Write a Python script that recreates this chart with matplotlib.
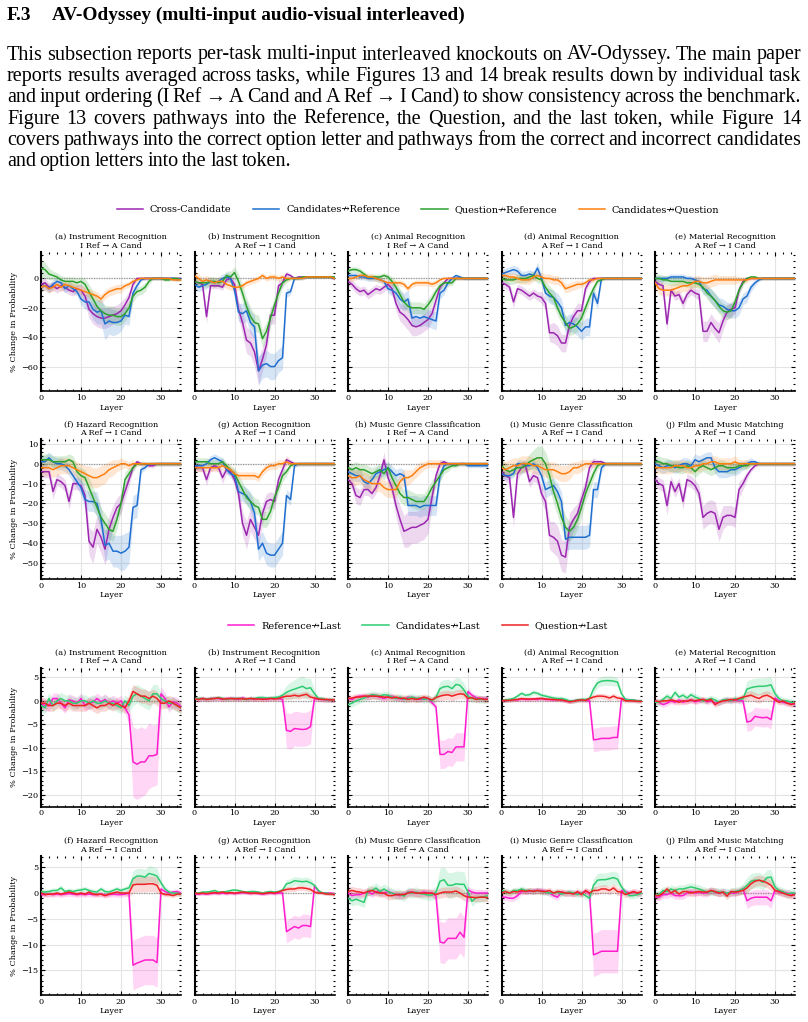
import matplotlib.pyplot as plt
import numpy as np
from matplotlib.lines import Line2D
from matplotlib.ticker import AutoMinorLocator, MultipleLocator

# ---------------------------------------------------------------- page text
heading_num = "F.3"
heading_text = "AV-Odyssey (multi-input audio-visual interleaved)"
paragraph_lines = [
    "This subsection reports per-task multi-input interleaved knockouts on AV-Odyssey. The main paper",
    "reports results averaged across tasks, while Figures 13 and 14 break results down by individual task",
    "and input ordering (I Ref \u2192 A Cand and A Ref \u2192 I Cand) to show consistency across the benchmark.",
    "Figure 13 covers pathways into the Reference, the Question, and the last token, while Figure 14",
    "covers pathways into the correct option letter and pathways from the correct and incorrect candidates",
    "and option letters into the last token.",
]

# ---------------------------------------------------------------- panels
task_names = [
    "(a) Instrument Recognition", "(b) Instrument Recognition", "(c) Animal Recognition",
    "(d) Animal Recognition", "(e) Material Recognition", "(f) Hazard Recognition",
    "(g) Action Recognition", "(h) Music Genre Classification",
    "(i) Music Genre Classification", "(j) Film and Music Matching",
]
orderings = [
    "I Ref \u2192 A Cand", "A Ref \u2192 I Cand", "I Ref \u2192 A Cand", "A Ref \u2192 I Cand",
    "A Ref \u2192 I Cand", "A Ref \u2192 I Cand", "A Ref \u2192 I Cand", "I Ref \u2192 A Cand",
    "A Ref \u2192 I Cand", "A Ref \u2192 I Cand",
]
layers = np.arange(36)

# ---- Figure 13: knockouts into Reference / Question (one row per task)
cross_candidate = [
    [-4, -3, -6, -5, -7, -5, -6, -8, -9, -7, -8, -12, -21, -24, -26, -27, -27, -26, -25, -24, -22, -18, -13, -4, 0, 0, 0, 0, 0, 0, 0, 0, 0, 0, 0, 0],
    [-2, -3, -4, -26, -5, -5, -5, -6, -1, 0, -4, -21, -30, -42, -44, -50, -63, -55, -45, -25, -25, -5, -3, 3, 2, 0, 1, 1, 1, 1, 1, 1, 1, 1, 1, 0],
    [-2, -4, -7, -9, -8, -11, -9, -7, -8, -6, -4, -7, -17, -23, -25, -28, -32, -33, -32, -30, -28, -24, -15, -6, -3, 0, 0, 0, 0, 0, 0, 0, 0, 0, 0, 0],
    [-3, -4, -6, -16, -7, -8, -10, -12, -10, -12, -13, -17, -37, -37, -39, -44, -44, -32, -26, -22, -22, -7, -2, 0, 0, 0, 0, 0, 0, 0, 0, 0, 0, 0, 0, 0],
    [-2, -4, -5, -31, -8, -12, -11, -17, -11, -8, -10, -11, -36, -36, -30, -34, -37, -29, -23, -21, -20, -8, -2, 0, 0, 0, 0, 0, 0, 0, 0, 0, 0, 0, 0, 0],
    [-4, -4, -4, -14, -8, -9, -11, -19, -10, -10, -11, -16, -39, -42, -33, -37, -43, -33, -27, -22, -20, -14, -8, -2, 1, 0, 0, -1, -1, 0, 0, 0, 0, 0, 0, 0],
    [-1, -2, -2, -8, -2, -1, -2, -7, -3, -4, -8, -15, -30, -36, -28, -32, -36, -25, -19, -18, -19, -8, -3, 2, 1, 0, 0, 0, 0, 0, 0, 0, 0, 0, 0, 0],
    [-8, -10, -16, -17, -13, -13, -15, -12, -6, 2, -7, -12, -21, -28, -34, -33, -32, -32, -31, -30, -28, -17, -6, 0, 1, 0, 0, 0, 0, 0, 0, 0, 0, 0, 0, 0],
    [-4, -6, -7, -27, -5, -2, -1, -9, -6, -7, -15, -19, -36, -37, -39, -46, -47, -32, -28, -25, -18, -12, -2, 1, 1, 1, 0, 0, 0, 0, 0, 0, 0, 0, 0, 0],
    [-8, -10, -11, -21, -9, -14, -10, -19, -8, -9, -11, -15, -27, -25, -24, -25, -33, -27, -26, -26, -27, -13, -10, -6, -3, -1, 0, 0, 0, 0, 0, 0, 0, 0, 0, 0],
]
cross_candidate_sd = [
    [3, 3, 3, 3, 3, 3, 3, 3, 3, 3, 4, 5, 6, 7, 7, 7, 7, 7, 6, 6, 6, 5, 4, 2, 1, 1, 1, 1, 1, 1, 1, 1, 1, 1, 1, 1],
    [2, 2, 2, 5, 2, 2, 2, 2, 2, 2, 4, 6, 8, 9, 9, 10, 9, 8, 7, 6, 6, 4, 3, 2, 1, 1, 1, 1, 1, 1, 1, 1, 1, 1, 1, 1],
    [3, 3, 3, 3, 3, 3, 3, 3, 3, 3, 3, 4, 5, 6, 7, 7, 7, 6, 6, 6, 6, 5, 4, 2, 1, 1, 1, 1, 1, 1, 1, 1, 1, 1, 1, 1],
    [3, 3, 3, 4, 3, 3, 3, 3, 3, 3, 4, 4, 6, 7, 7, 6, 6, 6, 5, 5, 5, 3, 2, 1, 1, 1, 1, 1, 1, 1, 1, 1, 1, 1, 1, 1],
    [3, 3, 3, 5, 3, 3, 3, 4, 3, 3, 3, 4, 7, 7, 6, 6, 7, 6, 5, 5, 4, 3, 2, 1, 1, 1, 1, 1, 1, 1, 1, 1, 1, 1, 1, 1],
    [3, 3, 3, 4, 3, 3, 3, 4, 3, 3, 3, 5, 7, 8, 7, 8, 8, 7, 6, 5, 5, 4, 3, 2, 1, 1, 1, 1, 1, 1, 1, 1, 1, 1, 1, 1],
    [2, 2, 2, 3, 2, 2, 2, 3, 2, 2, 3, 5, 6, 7, 6, 6, 6, 5, 4, 4, 4, 3, 2, 2, 1, 1, 1, 1, 1, 1, 1, 1, 1, 1, 1, 1],
    [3, 3, 4, 4, 3, 3, 3, 3, 3, 4, 3, 4, 6, 7, 8, 9, 8, 8, 8, 8, 7, 5, 3, 2, 1, 1, 1, 1, 1, 1, 1, 1, 1, 1, 1, 1],
    [3, 3, 3, 5, 3, 3, 3, 3, 3, 3, 4, 5, 7, 8, 8, 8, 8, 7, 6, 5, 5, 4, 3, 2, 1, 1, 1, 1, 1, 1, 1, 1, 1, 1, 1, 1],
    [3, 3, 3, 5, 3, 3, 3, 4, 3, 3, 3, 4, 6, 6, 6, 6, 6, 6, 5, 5, 5, 4, 3, 2, 1, 1, 1, 1, 1, 1, 1, 1, 1, 1, 1, 1],
]
candidates_reference = [
    [-6, -5, -7, -4, -2, -3, -7, -5, -7, -9, -14, -16, -16, -21, -23, -22, -31, -29, -30, -30, -29, -25, -26, -10, -5, -1, 0, 0, 0, 0, 0, 0, 0, 0, -1, 0],
    [-4, -6, -5, -4, -2, -3, -2, 0, 1, 0, -8, -23, -24, -22, -30, -33, -63, -59, -58, -60, -60, -56, -54, -10, -9, 0, 0, 0, 1, 1, 1, 1, 1, 1, 1, 0],
    [2, 2, 2, 1, 1, 0, 0, 0, -1, -2, -7, -8, -10, -14, -16, -14, -27, -26, -27, -26, -27, -28, -29, -10, -8, -3, 0, 2, 1, 0, 0, 0, 0, 0, 0, 0],
    [3, 4, 5, 6, 5, 2, 2, 3, 2, 7, 0, -10, -12, -13, -16, -20, -32, -30, -31, -33, -36, -33, -33, -10, -17, 0, 0, 0, 0, 0, 0, 0, 0, 0, 0, 0],
    [0, 0, 0, 0, 1, 1, 1, 1, 0, 0, -1, -2, -7, -8, -12, -15, -18, -19, -21, -22, -22, -20, -14, -12, -6, -3, -1, 0, 0, 0, 0, 0, 0, 0, 0, 0],
    [1, 1, 3, 1, 0, 0, -1, -3, -6, -9, -12, -18, -19, -19, -20, -28, -41, -40, -44, -44, -45, -44, -42, -22, -21, -3, -2, 0, 0, 0, 0, 0, 0, 0, 0, 0],
    [-1, -1, -1, 0, 2, 3, 2, 1, -3, -5, -6, -14, -15, -16, -19, -25, -43, -40, -45, -46, -46, -43, -40, -16, -18, -1, 0, 0, 0, 0, 0, 0, 0, 0, 0, 0],
    [-4, -5, -6, -6, -9, -10, -8, -5, -4, -3, -2, -4, -6, -5, -6, -21, -21, -21, -22, -21, -21, -21, -21, -6, -1, 0, 0, 0, 0, 0, -1, -1, -1, -1, -1, -1],
    [-5, -6, -6, -5, 0, 0, -1, -1, 0, -2, -6, -13, -12, -11, -14, -19, -38, -37, -37, -37, -37, -37, -36, -13, -13, -2, 0, 0, 0, 0, 0, 0, 0, 0, 0, 0],
    [0, -1, -2, -1, -1, -2, -1, 0, 0, -1, 2, 1, 2, 3, 3, -2, -4, -4, -4, -3, -3, -2, -1, 0, 1, 1, 0, 0, 0, 0, 0, 0, 0, 0, 0, 0],
]
candidates_reference_sd = [
    [3, 3, 3, 3, 3, 3, 3, 3, 3, 3, 4, 5, 6, 7, 8, 9, 11, 9, 9, 8, 7, 6, 6, 4, 2, 1, 1, 1, 1, 1, 1, 1, 1, 1, 1, 1],
    [3, 3, 3, 3, 3, 3, 3, 3, 3, 3, 4, 6, 7, 7, 8, 8, 10, 9, 9, 9, 9, 8, 8, 3, 2, 1, 1, 1, 1, 1, 1, 1, 1, 1, 1, 1],
    [2, 2, 2, 2, 2, 2, 2, 2, 2, 2, 3, 4, 5, 6, 6, 6, 6, 6, 6, 6, 6, 6, 6, 4, 3, 2, 1, 1, 1, 1, 1, 1, 1, 1, 1, 1],
    [3, 3, 3, 3, 3, 3, 3, 3, 3, 4, 3, 4, 5, 5, 6, 6, 6, 6, 6, 6, 6, 6, 6, 4, 4, 1, 1, 1, 1, 1, 1, 1, 1, 1, 1, 1],
    [2, 2, 2, 2, 2, 2, 2, 2, 2, 2, 2, 3, 4, 4, 5, 5, 5, 5, 5, 5, 5, 5, 4, 4, 3, 2, 1, 1, 1, 1, 1, 1, 1, 1, 1, 1],
    [3, 3, 3, 3, 3, 3, 3, 3, 3, 3, 4, 5, 5, 5, 6, 6, 8, 8, 8, 8, 9, 9, 8, 6, 6, 2, 1, 1, 1, 1, 1, 1, 1, 1, 1, 1],
    [2, 2, 2, 2, 2, 2, 2, 2, 2, 2, 3, 4, 4, 4, 5, 5, 6, 6, 6, 6, 6, 6, 6, 3, 3, 1, 1, 1, 1, 1, 1, 1, 1, 1, 1, 1],
    [3, 3, 3, 3, 3, 3, 3, 3, 3, 3, 3, 3, 3, 3, 3, 5, 5, 5, 5, 5, 5, 5, 5, 3, 2, 1, 1, 1, 1, 1, 1, 1, 1, 1, 1, 1],
    [2, 2, 2, 2, 2, 2, 2, 2, 2, 2, 3, 4, 4, 4, 4, 5, 6, 6, 6, 6, 6, 6, 6, 4, 4, 2, 1, 1, 1, 1, 1, 1, 1, 1, 1, 1],
    [3, 3, 3, 3, 3, 3, 3, 3, 3, 3, 3, 3, 3, 3, 3, 3, 3, 3, 3, 3, 3, 3, 2, 2, 2, 1, 1, 1, 1, 1, 1, 1, 1, 1, 1, 1],
]
question_reference = [
    [7, 6, 3, 2, 1, -1, -2, -2, -2, -3, -2, -4, -9, -14, -19, -22, -24, -25, -25, -26, -26, -24, -20, -12, -9, -8, -6, -2, 0, 0, 0, -1, -1, 0, 0, -1],
    [-2, -3, -3, -3, -2, -2, -3, -2, 2, 1, 4, -2, -10, -19, -26, -30, -31, -41, -36, -27, -18, -10, -3, -1, 0, 0, 0, 1, 1, 1, 1, 1, 1, 1, 1, 1],
    [5, 6, 6, 5, 3, 1, 1, 1, 1, 2, 1, -2, -6, -11, -16, -19, -20, -20, -20, -21, -18, -14, -9, -5, -3, -3, -3, 0, 0, 0, 0, 0, 0, 0, 0, 0],
    [0, -1, -1, -1, 0, 0, 0, 1, 2, 0, -1, -6, -10, -13, -20, -26, -30, -34, -33, -31, -27, -20, -13, -7, -2, -1, 0, 0, 0, 0, 0, 0, 0, 0, 0, 0],
    [0, 0, -1, -1, -2, -2, -2, -2, -3, -3, -3, -4, -6, -10, -12, -15, -19, -22, -23, -22, -16, -8, -3, 0, 1, 1, 0, 0, 0, 0, 0, 0, 0, 0, 0, 0],
    [2, 2, 2, 1, 1, 1, 1, 2, 1, -4, -6, -7, -12, -17, -22, -27, -30, -33, -34, -28, -20, -8, -5, -2, 0, 0, 0, 0, 0, 0, 0, 0, 0, 0, 0, 0],
    [1, 1, 1, 1, 0, 0, 0, 1, -1, -3, -5, -9, -13, -17, -19, -21, -22, -28, -28, -24, -17, -12, -6, -4, -1, 0, 0, 0, 0, 0, 0, 0, 0, 0, 0, 0],
    [-2, -3, -2, -3, -3, -4, -5, -4, -3, -5, -2, -7, -11, -15, -17, -17, -18, -19, -19, -19, -16, -12, -9, -6, -3, -2, -1, -1, 0, 0, 0, 0, 0, 0, 0, 0],
    [-1, -3, -4, -3, -2, -2, -1, 1, 2, 3, 3, 0, -6, -14, -20, -27, -32, -34, -32, -28, -22, -15, -10, -5, -1, 0, 0, 0, 0, 0, 0, 0, 0, 0, 0, 0],
    [1, 1, 0, 0, -1, -1, -2, -2, -1, -2, -4, -2, -1, -2, -3, -2, -1, -1, -2, -2, -2, -1, -1, -1, 0, 0, 0, 0, 0, 0, 0, 0, 0, 0, 0, 0],
]
question_reference_sd = [
    [6, 5, 4, 3, 3, 3, 3, 3, 3, 3, 3, 4, 5, 5, 6, 6, 6, 6, 6, 6, 6, 5, 5, 4, 3, 3, 3, 2, 1, 1, 1, 1, 1, 1, 1, 1],
    [3, 3, 3, 3, 3, 3, 3, 3, 3, 4, 4, 5, 6, 6, 6, 6, 6, 6, 6, 6, 5, 5, 3, 2, 1, 1, 1, 1, 1, 1, 1, 1, 1, 1, 1, 1],
    [2, 2, 2, 2, 2, 2, 2, 2, 2, 2, 2, 3, 4, 4, 4, 4, 4, 4, 4, 4, 4, 4, 3, 3, 2, 2, 2, 1, 1, 1, 1, 1, 1, 1, 1, 1],
    [3, 3, 3, 3, 3, 3, 3, 3, 3, 3, 3, 4, 5, 5, 5, 5, 5, 5, 5, 5, 5, 4, 4, 3, 2, 1, 1, 1, 1, 1, 1, 1, 1, 1, 1, 1],
    [3, 3, 3, 3, 3, 3, 3, 3, 3, 3, 3, 3, 4, 4, 5, 5, 5, 5, 5, 5, 4, 3, 2, 1, 1, 1, 1, 1, 1, 1, 1, 1, 1, 1, 1, 1],
    [3, 3, 3, 3, 3, 3, 3, 3, 3, 3, 4, 4, 5, 5, 5, 5, 5, 5, 5, 5, 4, 4, 3, 2, 1, 1, 1, 1, 1, 1, 1, 1, 1, 1, 1, 1],
    [2, 2, 2, 2, 2, 2, 2, 2, 2, 2, 3, 3, 4, 4, 4, 4, 4, 4, 4, 4, 4, 3, 3, 2, 1, 1, 1, 1, 1, 1, 1, 1, 1, 1, 1, 1],
    [3, 3, 3, 3, 3, 3, 3, 3, 3, 3, 3, 4, 4, 4, 4, 4, 4, 4, 4, 4, 4, 4, 3, 3, 2, 2, 1, 1, 1, 1, 1, 1, 1, 1, 1, 1],
    [3, 3, 3, 3, 3, 3, 3, 4, 5, 6, 6, 6, 6, 6, 6, 6, 6, 5, 5, 5, 5, 4, 4, 3, 2, 1, 1, 1, 1, 1, 1, 1, 1, 1, 1, 1],
    [3, 3, 3, 3, 3, 3, 3, 3, 3, 3, 3, 3, 3, 3, 3, 3, 3, 3, 3, 3, 3, 2, 2, 2, 1, 1, 1, 1, 1, 1, 1, 1, 1, 1, 1, 1],
]
candidates_question = [
    [-6, -5, -7, -6, -4, -6, -4, -5, -6, -7, -8, -9, -10, -11, -12, -14, -11, -9, -8, -7, -7, -5, -4, -2, -1, 0, 0, 0, 0, 0, 0, 0, 0, -1, -1, -1],
    [2, 0, -2, -1, -2, -3, -2, -2, -4, -5, -6, -6, -5, -3, -2, -1, 0, 2, 0, 1, 1, 0, 1, 0, 0, 0, 0, 0, 1, 1, 1, 1, 1, 1, 1, 0],
    [0, 0, 1, 2, 2, 1, 1, 0, -1, -2, -3, -3, -3, -3, -4, -7, -4, -3, -3, -3, -3, -4, -3, -1, 0, 0, 0, 0, 0, 0, 0, 0, 0, 0, 0, 0],
    [2, 2, 1, 1, 0, -1, -1, -1, 1, 2, 1, 0, 0, -1, -1, -3, -7, -6, -5, -4, -4, -3, -1, -1, 0, 0, 0, 0, 0, 0, 0, 0, 0, 0, 0, 0],
    [-3, -7, -8, -8, -8, -7, -6, -5, -5, -4, -2, -2, -3, -3, -2, -1, -1, -1, -1, -1, -1, -1, -1, -1, 0, 0, 0, 0, 0, 0, 0, 0, 0, 0, 0, 0],
    [-2, -2, -2, -3, -2, -1, -1, -1, -2, -3, -4, -5, -6, -7, -7, -6, -5, -3, -2, -1, 0, 0, -1, 0, 0, 0, 0, 0, 0, 0, 0, 0, 0, 0, 0, 0],
    [-2, -2, -2, -2, -2, -2, -2, -1, -2, -3, -5, -6, -6, -6, -6, -6, -7, -4, -2, -1, -1, 0, 0, 1, 0, 0, 0, 0, 0, 0, 0, 0, 0, 0, 0, 0],
    [-6, -7, -7, -6, -8, -9, -10, -10, -10, -12, -13, -13, -13, -9, -7, -7, -6, -4, -2, -1, 0, 0, 0, 0, 0, 0, 0, 0, 0, 0, 0, 0, 0, 0, 0, 0],
    [-2, -3, -2, -1, -1, 0, 0, 0, -1, -1, -2, -3, -3, -3, -4, -5, -5, -4, -2, -2, -1, 0, 0, 0, 0, 0, 0, 0, 0, 0, 0, 0, 0, 0, 0, 0],
    [-2, -2, -2, -2, -2, -1, -1, -1, -2, -2, -1, -1, 0, 0, 1, 1, 0, 0, 0, 0, 1, 0, 0, 0, 0, 0, 0, 0, 0, 0, 0, 0, 0, 0, 0, 0],
]
candidates_question_sd = [
    [3, 3, 3, 3, 3, 3, 3, 3, 3, 3, 3, 3, 3, 3, 3, 3, 3, 3, 3, 3, 3, 2, 2, 2, 2, 1, 1, 1, 1, 1, 1, 1, 1, 1, 1, 1],
    [3, 3, 3, 3, 3, 3, 3, 3, 3, 3, 3, 2, 2, 2, 2, 2, 2, 2, 2, 2, 2, 2, 2, 2, 1, 1, 1, 1, 1, 1, 1, 1, 1, 1, 1, 1],
    [2, 2, 2, 2, 2, 2, 2, 2, 2, 2, 2, 2, 2, 2, 2, 2, 2, 2, 2, 2, 2, 2, 2, 1, 1, 1, 1, 1, 1, 1, 1, 1, 1, 1, 1, 1],
    [3, 3, 3, 3, 3, 3, 3, 3, 3, 3, 3, 3, 3, 3, 3, 3, 3, 3, 3, 3, 2, 2, 2, 2, 1, 1, 1, 1, 1, 1, 1, 1, 1, 1, 1, 1],
    [4, 4, 4, 4, 4, 4, 4, 4, 4, 4, 4, 4, 4, 4, 4, 4, 3, 3, 3, 3, 3, 2, 2, 2, 1, 1, 1, 1, 1, 1, 1, 1, 1, 1, 1, 1],
    [4, 4, 4, 4, 4, 4, 4, 4, 4, 4, 4, 4, 5, 5, 5, 5, 5, 4, 4, 3, 3, 2, 2, 2, 1, 1, 1, 1, 1, 1, 1, 1, 1, 1, 1, 1],
    [2, 2, 2, 2, 2, 2, 2, 2, 2, 2, 2, 2, 2, 2, 2, 2, 2, 2, 2, 2, 2, 2, 2, 2, 1, 1, 1, 1, 1, 1, 1, 1, 1, 1, 1, 1],
    [4, 4, 4, 4, 4, 4, 4, 4, 4, 4, 4, 4, 4, 4, 4, 4, 3, 3, 3, 2, 2, 2, 2, 2, 1, 1, 1, 1, 1, 1, 1, 1, 1, 1, 1, 1],
    [4, 4, 4, 4, 4, 4, 4, 4, 4, 4, 4, 4, 4, 4, 4, 4, 4, 4, 3, 3, 3, 2, 2, 2, 1, 1, 1, 1, 1, 1, 1, 1, 1, 1, 1, 1],
    [3, 3, 3, 3, 3, 3, 3, 3, 3, 3, 3, 3, 3, 3, 3, 3, 3, 3, 3, 3, 3, 2, 2, 2, 1, 1, 1, 1, 1, 1, 1, 1, 1, 1, 1, 1],
]

# ---- Figure 14: knockouts into the last token
reference_last = [
    [-0.5, -1, -1, 0.5, 0.5, -0.5, -1.5, 0.2, 0, -0.5, 0.5, -1, -0.5, -0.3, 0.5, -0.2, 0.3, -0.5, 0, -0.5, 0, -1.5, -3, -13, -13.5, -13, -13, -11.7, -11.7, -11.4, 1.5, 0.5, -1.3, -0.2, -0.5, -1.2],
    [0.5, 0.3, 0.5, 0.3, 0.5, 0.5, 0.5, 0.3, 0.5, 0.5, 0.5, 0.3, 0.7, 0.3, 0.5, 0.3, 0.5, 0.5, 0.3, 0.5, 0.5, 0.5, 0.3, -6.3, -6.5, -5.9, -6, -6.1, -6, -5.5, 0.5, 0.3, 0.3, 0.2, 0.2, 0.2],
    [0.5, 0.3, 0.8, 1, 1, 0.8, 1.2, 1, 0.8, 0.5, 0.8, 1, 0.5, 0.5, 0.3, 0.8, 0.6, 0.5, 0.3, 0.5, 0.5, -0.4, -1.3, -11.4, -11.4, -10.8, -11, -9.8, -9.8, -9.8, 2, 1.2, 0.7, 0.5, 0.5, 0.5],
    [0, 0.1, 0.2, 0.3, 0.2, 0.4, 0.3, 0.3, 0.4, 0.3, 0.5, 0.3, 0.3, 0.2, 0.3, 0.2, 0, -0.2, 0, 0.2, 0.2, 0.1, 0, -8.3, -8.2, -8, -8, -8, -7.8, -7.8, 0.5, 0.3, 0.2, 0.1, 0, 0],
    [0, -0.3, -0.8, -0.5, 0, -0.3, 0.2, -0.3, 0, 0.2, -0.2, 0, 0.3, -0.2, 0, -0.5, -0.3, 0, 0.3, 0, 0.2, 0, 0, -4.5, -4.3, -3.3, -3.5, -3.6, -3.5, -4, 0.6, 0, -0.3, -0.5, -0.5, -0.8],
    [-0.3, -0.3, -0.2, -0.3, -0.2, -0.3, -0.2, -0.1, -0.2, -0.3, -0.2, -0.3, -0.2, -0.3, -0.3, -0.2, -0.4, -0.3, -0.2, -0.3, -0.3, -0.2, 0, -14, -13.6, -13.3, -13, -13, -13, -13.5, 0.8, 0.3, 0, 0.2, 0.3, 0],
    [-0.2, -0.2, -0.1, -0.2, -0.1, 0, -0.1, 0, -0.1, 0, -0.1, 0, 0.1, 0, -0.1, 0, -0.1, -0.2, -0.1, 0, -0.1, 0, 0, -7.5, -7, -6.5, -6.8, -6.3, -6.3, -6.5, 1.4, 0.3, 0, 0, 0, -0.1],
    [0, -0.5, -0.3, -0.3, 0, 0.3, -0.2, 0.3, 0.2, 0, 0.3, 0, -0.3, -0.5, -0.3, 0.2, 0.2, 0, 0, 0.2, 0, 0, -0.6, -9.5, -9.7, -8.8, -8.8, -8.8, -7.6, -8.6, 0.6, 0.2, 0, 0, 0, 0],
    [-0.8, -0.8, -1, -1, -0.5, 0.3, 0.3, 0.3, 0.5, 0.5, 0.5, 0.3, 0, -0.5, -0.8, 0.2, 0, 0, 0, 0, 0, 0.3, 0, -12, -11.7, -11.3, -11.3, -11.3, -11.3, -11.3, 0.5, 0.3, 0, 0.2, 0, 0],
    [-0.8, -0.8, -0.3, -0.3, 0, -0.5, -0.5, -0.5, 0, 0.3, 0, 0.2, 0, 0, 0.5, 0.2, 0, 0.2, 0, 0, 0, 0.3, 0.8, -1.5, -1, -0.8, -0.8, -0.8, -0.8, -1.5, 0.5, 0.2, 0, 0, -0.2, -0.3],
]
reference_last_sd = [
    [1.2, 1.2, 1.2, 1.2, 1.2, 1.2, 1.2, 1.2, 1.2, 1.2, 1.2, 1.2, 1.2, 1.2, 1.2, 1.2, 1.2, 1.2, 1.2, 1.2, 1.2, 1.2, 2, 7.5, 7.5, 7.5, 7, 7, 6.5, 6.5, 1.5, 1.2, 1.2, 1.2, 1.2, 1.2],
    [0.5, 0.5, 0.5, 0.5, 0.5, 0.5, 0.5, 0.5, 0.5, 0.5, 0.5, 0.5, 0.5, 0.5, 0.5, 0.5, 0.5, 0.5, 0.5, 0.5, 0.5, 0.5, 0.8, 3.8, 3.8, 3.7, 3.7, 3.6, 3.6, 3.6, 0.5, 0.5, 0.5, 0.5, 0.5, 0.5],
    [0.6, 0.6, 0.6, 0.6, 0.6, 0.6, 0.6, 0.6, 0.6, 0.6, 0.6, 0.6, 0.6, 0.6, 0.6, 0.6, 0.6, 0.6, 0.6, 0.6, 0.6, 0.6, 0.8, 3, 3, 3, 3, 3, 3, 3, 0.8, 0.6, 0.6, 0.6, 0.6, 0.6],
    [0.4, 0.4, 0.4, 0.4, 0.4, 0.4, 0.4, 0.4, 0.4, 0.4, 0.4, 0.4, 0.4, 0.4, 0.4, 0.4, 0.4, 0.4, 0.4, 0.4, 0.4, 0.4, 0.5, 2.5, 2.5, 2.5, 2.5, 2.5, 2.5, 2.5, 0.4, 0.4, 0.4, 0.4, 0.4, 0.4],
    [0.6, 0.6, 0.6, 0.6, 0.6, 0.6, 0.6, 0.6, 0.6, 0.6, 0.6, 0.6, 0.6, 0.6, 0.6, 0.6, 0.6, 0.6, 0.6, 0.6, 0.6, 0.6, 0.7, 2, 2, 2, 2, 2, 2, 2, 0.6, 0.6, 0.6, 0.6, 0.6, 0.6],
    [0.5, 0.5, 0.5, 0.5, 0.5, 0.5, 0.5, 0.5, 0.5, 0.5, 0.5, 0.5, 0.5, 0.5, 0.5, 0.5, 0.5, 0.5, 0.5, 0.5, 0.5, 0.5, 0.6, 4.8, 4.8, 4.8, 4.8, 4.8, 4.8, 4.8, 0.5, 0.5, 0.5, 0.5, 0.5, 0.5],
    [0.3, 0.3, 0.3, 0.3, 0.3, 0.3, 0.3, 0.3, 0.3, 0.3, 0.3, 0.3, 0.3, 0.3, 0.3, 0.3, 0.3, 0.3, 0.3, 0.3, 0.3, 0.3, 0.4, 2.2, 2.2, 2.2, 2.2, 2.2, 2.2, 2.2, 0.3, 0.3, 0.3, 0.3, 0.3, 0.3],
    [0.7, 0.7, 0.7, 0.7, 0.7, 0.7, 0.7, 0.7, 0.7, 0.7, 0.7, 0.7, 0.7, 0.7, 0.7, 0.7, 0.7, 0.7, 0.7, 0.7, 0.7, 0.7, 0.8, 4, 4, 4, 4, 4, 4, 4, 0.7, 0.7, 0.7, 0.7, 0.7, 0.7],
    [0.6, 0.6, 0.6, 0.6, 0.6, 0.6, 0.6, 0.6, 0.6, 0.6, 0.6, 0.6, 0.6, 0.6, 0.6, 0.6, 0.6, 0.6, 0.6, 0.6, 0.6, 0.6, 0.7, 4.2, 4.2, 4.2, 4.2, 4.2, 4.2, 4.2, 0.6, 0.6, 0.6, 0.6, 0.6, 0.6],
    [0.7, 0.7, 0.7, 0.7, 0.7, 0.7, 0.7, 0.7, 0.7, 0.7, 0.7, 0.7, 0.7, 0.7, 0.7, 0.7, 0.7, 0.7, 0.7, 0.7, 0.7, 0.7, 0.8, 1.5, 1.5, 1.5, 1.5, 1.5, 1.5, 1.5, 0.7, 0.7, 0.7, 0.7, 0.7, 0.7],
]
candidates_last = [
    [-1, -1.5, 0.5, -1, 0, 0.5, 0, 0, -0.5, -0.5, 0, 0, -0.5, 0, -0.5, -0.5, 0, -0.5, -0.5, -1, -1.5, 0, -1, 1, 1.5, 1, 0.5, 0, 1.5, 1.5, 0.5, 0, -0.5, -0.5, -1, -1.5],
    [0.5, 0.5, 0.5, 0.3, 0.5, 0.5, 0.7, 0.5, 0.3, 0.5, 0.5, 0.5, 0.5, 0.3, 0.5, 0.5, 0.7, 0.7, 0.6, 0.6, 0.7, 0.8, 1.2, 1.8, 2.2, 2.5, 2.8, 3.1, 2.6, 2.8, 1.5, 0.5, 0.5, 0.2, 0.3, 0.2],
    [-0.8, -0.5, 0, 0.3, 0.6, 1, 1.3, 1.2, 1, 1.3, 1.2, 0.8, 0.5, 0.8, 0.3, 0.6, 0.8, 0.5, 0.6, 0.3, 0.5, 0, 0.8, 2.6, 3, 3.1, 2.6, 3.5, 3.3, 2.3, 1, 0.5, 0.5, 0.3, 0.3, 0.3],
    [0, 0.2, 0.3, 0.5, 1, 1.6, 1.2, 1.3, 1.8, 1.6, 1.2, 1, 0.8, 0.6, 0.5, 0.5, 0.3, 0, 0, 0.2, 0.3, 0.3, 0.5, 2.5, 3.8, 4.2, 4.3, 4.3, 4.2, 4, 1.5, 0.3, 0.2, 0.2, 0, 0],
    [-0.3, -0.3, 0.3, 1, 0.5, 1.8, 0.8, 1.2, 0.6, 1.3, 0.8, 0.5, 0, 0.2, 0.5, 0.2, -0.3, 0.2, 0.3, 0, 0.5, 0.2, 0.5, 2.5, 2.8, 3, 3.1, 3.1, 3.2, 3.4, 1.5, 0.5, 0, 0, -0.3, -0.5],
    [0.3, 0.2, 0.3, 0.5, 0.5, 1, 0.3, 0.5, 0.3, 0.5, 0.6, 0.8, 0.5, 0.3, 0.2, 0.8, 0.3, 0.2, 0.5, 0.8, 0.5, 0.8, 1, 2.8, 3.3, 3.3, 3.1, 3.8, 3.6, 3.3, 2, 0.8, 0.2, 0, 0, -0.2],
    [0, 0, 0.2, 0.2, 0.3, 0.5, 0.2, 0.2, 0.3, 0.5, 0.6, 0.5, 0.3, 0.2, 0.3, 0.3, 0.2, 0, 0.2, 0.3, 0.2, 0.3, 0.6, 1.8, 2, 2.4, 2.3, 2.2, 2.3, 2, 1.5, 0.5, 0, 0, -0.2, -0.2],
    [-1, -1.5, -1.2, -1.5, -1.8, 0.5, 0.5, 1, 0.3, 0.8, 0.3, 0, -0.3, -0.3, -0.6, 0.2, 0, 0.2, -0.1, -0.2, -0.4, -0.4, 0.2, 2.3, 2.6, 1.5, 1.5, 1.8, 1.7, 1.7, 0.2, -1.6, -0.9, -0.8, -0.7, -0.5],
    [0.5, 0.3, 0, 0.5, 0.5, 0.8, 0.5, 0.5, 0.3, 0.5, 0.3, 0.2, 0, 0, 0.2, -0.2, 0, 0.2, 0, -0.3, 0, -0.5, -1, 1.5, 2.5, 2.6, 2.6, 2.8, 3, 2.7, 1.2, 0.2, -0.5, -0.5, -0.3, 0],
    [-0.5, -0.3, 0.5, 0.3, 0.8, 0.5, 0.8, 0.8, 1, 1.2, 1, 0.8, 0.5, 0.2, 0.3, 0.3, 0.2, 0.2, 0, 0.2, 0.3, 0.5, 0.8, 1.5, 2.3, 2.5, 2.5, 2.1, 3, 3.1, 1.2, 0.5, 0.3, -0.2, 0, 0],
]
candidates_last_sd = [
    [1.3, 1.3, 1.3, 1.3, 1.3, 1.3, 1.3, 1.3, 1.3, 1.3, 1.3, 1.3, 1.3, 1.3, 1.3, 1.3, 1.3, 1.3, 1.3, 1.3, 1.3, 1.3, 1.5, 2, 2, 2, 2, 2, 2, 2, 1.3, 1.3, 1.3, 1.3, 1.3, 1.3],
    [0.5, 0.5, 0.5, 0.5, 0.5, 0.5, 0.5, 0.5, 0.5, 0.5, 0.5, 0.5, 0.5, 0.5, 0.5, 0.5, 0.5, 0.5, 0.5, 0.5, 0.5, 0.5, 0.8, 1.5, 1.8, 2, 2.2, 2.2, 2.2, 2, 0.8, 0.5, 0.5, 0.5, 0.5, 0.5],
    [0.8, 0.8, 0.8, 0.8, 0.8, 0.8, 0.8, 0.8, 0.8, 0.8, 0.8, 0.8, 0.8, 0.8, 0.8, 0.8, 0.8, 0.8, 0.8, 0.8, 0.8, 0.8, 1, 1.5, 1.5, 1.5, 1.5, 1.5, 1.5, 1.5, 0.8, 0.8, 0.8, 0.8, 0.8, 0.8],
    [0.5, 0.5, 0.5, 0.5, 0.5, 0.5, 0.5, 0.5, 0.5, 0.5, 0.5, 0.5, 0.5, 0.5, 0.5, 0.5, 0.5, 0.5, 0.5, 0.5, 0.5, 0.5, 0.6, 1, 1, 1, 1, 1, 1, 1, 0.4, 0.4, 0.4, 0.4, 0.4, 0.4],
    [0.7, 0.7, 0.7, 0.7, 0.7, 0.7, 0.7, 0.7, 0.7, 0.7, 0.7, 0.7, 0.7, 0.7, 0.7, 0.7, 0.7, 0.7, 0.7, 0.7, 0.7, 0.7, 0.8, 1.8, 1.8, 1.8, 1.8, 1.8, 1.8, 1.8, 0.7, 0.7, 0.7, 0.7, 0.7, 0.7],
    [0.5, 0.5, 0.5, 0.5, 0.5, 0.5, 0.5, 0.5, 0.5, 0.5, 0.5, 0.5, 0.5, 0.5, 0.5, 0.5, 0.5, 0.5, 0.5, 0.5, 0.5, 0.5, 0.6, 1.5, 1.5, 1.5, 1.5, 1.5, 1.5, 1.5, 0.5, 0.5, 0.5, 0.5, 0.5, 0.5],
    [0.3, 0.3, 0.3, 0.3, 0.3, 0.3, 0.3, 0.3, 0.3, 0.3, 0.3, 0.3, 0.3, 0.3, 0.3, 0.3, 0.3, 0.3, 0.3, 0.3, 0.3, 0.3, 0.4, 0.8, 0.8, 0.8, 0.8, 0.8, 0.8, 0.8, 0.3, 0.3, 0.3, 0.3, 0.3, 0.3],
    [1, 1, 1, 1, 1, 1, 1, 1, 1, 1, 1, 1, 1, 1, 1, 1, 1, 1, 1, 1, 1, 1, 1.2, 2.5, 2.5, 2.5, 2.5, 2.5, 2.5, 2.5, 1, 1, 1, 1, 1, 1],
    [0.6, 0.6, 0.6, 0.6, 0.6, 0.6, 0.6, 0.6, 0.6, 0.6, 0.6, 0.6, 0.6, 0.6, 0.6, 0.6, 0.6, 0.6, 0.6, 0.6, 0.6, 0.6, 0.7, 1.3, 1.3, 1.3, 1.3, 1.3, 1.3, 1.3, 0.6, 0.6, 0.6, 0.6, 0.6, 0.6],
    [0.8, 0.8, 0.8, 0.8, 0.8, 0.8, 0.8, 0.8, 0.8, 0.8, 0.8, 0.8, 0.8, 0.8, 0.8, 0.8, 0.8, 0.8, 0.8, 0.8, 0.8, 0.8, 1, 1.5, 1.5, 1.5, 1.5, 1.5, 1.5, 1.5, 0.8, 0.8, 0.8, 0.8, 0.8, 0.8],
]
question_last = [
    [-0.5, -0.5, -1, -1, -0.5, -0.5, -1, -0.5, -1, -1, -1, -1, -0.5, -1, -1.5, -1, -1, -0.5, -1, -0.5, -1, -1.5, 0, 2, 1.5, 1, 1, 0.5, 1, 0.5, -0.5, -0.5, 0, -0.5, -1, -1.5],
    [0.4, 0.3, 0.5, 0.3, 0.4, 0.5, 0.6, 0.4, 0.4, 0.5, 0.4, 0.5, 0.4, 0.4, 0.5, 0.4, 0.4, 0.3, 0.4, 0.5, 0.4, 0.5, 0.8, 1, 1, 1.2, 1, 1.2, 1.4, 0.8, 0.6, 0.4, 0.3, 0.3, 0.2, 0.2],
    [0.5, 0.6, 0.8, 0.8, 1, 1, 1, 1, 0.9, 0.8, 0.8, 0.6, 0.8, 0.5, 0.6, 0.3, 0.5, 0.3, 0.5, 0.8, 0.5, 0.2, 0.7, 1, 1.2, 1.3, 1, 1.3, 1.5, 1.4, 0.5, 0.7, 0.3, 0.5, 0.3, 0.3],
    [0, 0.1, 0.1, 0.2, 0.3, 0.5, 0.4, 0.4, 0.4, 0.5, 0.5, 0.4, 0.3, 0.3, 0.2, 0.2, 0, -0.2, -0.1, 0.1, 0.2, 0.1, 0.5, 0.8, 1, 1, 0.9, 0.6, 1, 0.6, 0.5, 0, 0, 0, -0.1, -0.1],
    [0, -0.2, 0, 0, 0.2, 0, -0.3, 0, -0.1, 0.2, 0, 0.2, 0.3, 0, 0.3, -0.8, -0.3, 0, 0.1, 0.3, 0.2, 0.5, 0.8, 1, 1.2, 0.8, 0.5, 1, 1.2, 0.8, 0.2, -0.3, 0, -0.5, -0.8, -0.5],
    [0, -0.3, -0.2, -0.2, 0, -0.2, 0, 0.2, 0, -0.2, 0, -0.2, 0.2, -0.2, -0.3, -0.2, -0.5, -0.2, 0, 0.2, 0, 0, 0, 1.6, 1.7, 1.7, 1.7, 1.8, 1.8, 1.5, 0, -0.3, -0.3, -0.5, -0.2, -0.2],
    [0, -0.1, 0, -0.1, 0, 0.1, 0, 0.2, 0, 0.1, 0, 0.1, 0.2, 0.1, 0, 0, 0, -0.1, 0, 0.1, 0, 0.2, 0.5, 0.7, 0.8, 0.8, 1, 1, 0.9, 0.7, 0.2, 0, 0, -0.2, -0.2, -0.3],
    [0.3, 0.5, 0.3, 0.2, 0, 0.3, 0.5, 0.2, 0, 0, -0.5, -0.5, -0.3, -0.3, -0.3, 0, 0.2, 0, 0, 0, 0, 0, -0.3, 0, 0.2, 0.2, 0.2, 0.4, 0, -0.5, -0.8, -0.8, -0.9, -0.8, -0.8, -0.9],
    [0, 0.3, 0, 0.3, 0.2, 0.5, 0.3, 0.5, 0.3, 0.5, 0.3, 0.3, 0.5, 0, 0.3, 0.2, 0, 0, -0.2, 0.3, -0.3, 0.5, 0, 0.5, 0.5, 0.8, 0.8, 0.5, 1, 0.3, 0.2, -0.3, 0, 0.3, 0, 0.3],
    [-0.5, -0.5, 0, 0.8, 0, 0.5, -0.2, 0.3, 0.3, 0, 0.2, 0.3, 0.2, 0.2, 0.5, 0.3, 0, 0.2, -0.6, 0.3, 0.2, 0.3, 0.5, 1, 1.8, 2.3, 2.5, 2.3, 2, 1.5, 0.5, 0.3, 0, -0.3, -0.5, -0.3],
]
question_last_sd = [
    [1.2, 1.2, 1.2, 1.2, 1.2, 1.2, 1.2, 1.2, 1.2, 1.2, 1.2, 1.2, 1.2, 1.2, 1.2, 1.2, 1.2, 1.2, 1.2, 1.2, 1.2, 1.2, 1.3, 1.5, 1.5, 1.5, 1.5, 1.5, 1.5, 1.5, 1.2, 1.2, 1.2, 1.2, 1.2, 1.2],
    [0.5, 0.5, 0.5, 0.5, 0.5, 0.5, 0.5, 0.5, 0.5, 0.5, 0.5, 0.5, 0.5, 0.5, 0.5, 0.5, 0.5, 0.5, 0.5, 0.5, 0.5, 0.5, 0.6, 0.7, 0.7, 0.7, 0.7, 0.7, 0.7, 0.7, 0.5, 0.5, 0.5, 0.5, 0.5, 0.5],
    [0.7, 0.7, 0.7, 0.7, 0.7, 0.7, 0.7, 0.7, 0.7, 0.7, 0.7, 0.7, 0.7, 0.7, 0.7, 0.7, 0.7, 0.7, 0.7, 0.7, 0.7, 0.7, 0.8, 1, 1, 1, 1, 1, 1, 1, 0.7, 0.7, 0.7, 0.7, 0.7, 0.7],
    [0.4, 0.4, 0.4, 0.4, 0.4, 0.4, 0.4, 0.4, 0.4, 0.4, 0.4, 0.4, 0.4, 0.4, 0.4, 0.4, 0.4, 0.4, 0.4, 0.4, 0.4, 0.4, 0.5, 0.6, 0.6, 0.6, 0.6, 0.6, 0.6, 0.6, 0.4, 0.4, 0.4, 0.4, 0.4, 0.4],
    [0.6, 0.6, 0.6, 0.6, 0.6, 0.6, 0.6, 0.6, 0.6, 0.6, 0.6, 0.6, 0.6, 0.6, 0.6, 0.6, 0.6, 0.6, 0.6, 0.6, 0.6, 0.6, 0.7, 1, 1, 1, 1, 1, 1, 1, 0.6, 0.6, 0.6, 0.6, 0.6, 0.6],
    [0.4, 0.4, 0.4, 0.4, 0.4, 0.4, 0.4, 0.4, 0.4, 0.4, 0.4, 0.4, 0.4, 0.4, 0.4, 0.4, 0.4, 0.4, 0.4, 0.4, 0.4, 0.4, 0.8, 1.5, 1.5, 1.5, 1.5, 1.5, 1.5, 1.5, 0.4, 0.4, 0.4, 0.4, 0.4, 0.4],
    [0.3, 0.3, 0.3, 0.3, 0.3, 0.3, 0.3, 0.3, 0.3, 0.3, 0.3, 0.3, 0.3, 0.3, 0.3, 0.3, 0.3, 0.3, 0.3, 0.3, 0.3, 0.3, 0.4, 0.5, 0.5, 0.5, 0.5, 0.5, 0.5, 0.5, 0.3, 0.3, 0.3, 0.3, 0.3, 0.3],
    [0.8, 0.8, 0.8, 0.8, 0.8, 0.8, 0.8, 0.8, 0.8, 0.8, 0.8, 0.8, 0.8, 0.8, 0.8, 0.8, 0.8, 0.8, 0.8, 0.8, 0.8, 0.8, 0.9, 1, 1, 1, 1, 1, 1, 1, 0.8, 0.8, 0.8, 0.8, 0.8, 0.8],
    [0.6, 0.6, 0.6, 0.6, 0.6, 0.6, 0.6, 0.6, 0.6, 0.6, 0.6, 0.6, 0.6, 0.6, 0.6, 0.6, 0.6, 0.6, 0.6, 0.6, 0.6, 0.6, 0.7, 0.8, 0.8, 0.8, 0.8, 0.8, 0.8, 0.8, 0.6, 0.6, 0.6, 0.6, 0.6, 0.6],
    [0.7, 0.7, 0.7, 0.7, 0.7, 0.7, 0.7, 0.7, 0.7, 0.7, 0.7, 0.7, 0.7, 0.7, 0.7, 0.7, 0.7, 0.7, 0.7, 0.7, 0.7, 0.7, 0.8, 1, 1, 1, 1, 1, 1, 1, 0.7, 0.7, 0.7, 0.7, 0.7, 0.7],
]

top_labels = ["Cross-Candidate", "Candidates\u219bReference", "Question\u219bReference", "Candidates\u219bQuestion"]
top_colors = ["#9c27b0", "#1f6fd0", "#2ca02c", "#ff7f0e"]
bottom_labels = ["Reference\u219bLast", "Candidates\u219bLast", "Question\u219bLast"]
bottom_colors = ["#ff1dce", "#2ecc71", "#ee2222"]

# ---------------------------------------------------------------- figure
W, H = 808, 1022
plt.rcParams["font.family"] = ["DejaVu Serif", "DejaVu Sans"]
plt.rcParams["axes.unicode_minus"] = True
fig = plt.figure(figsize=(W / 100, H / 100), dpi=100)
renderer = fig.canvas.get_renderer()

TEXT_FONT = ["Liberation Serif", "DejaVu Serif"]


def fx(x):
    return x / W


def fy(y):
    return 1 - y / H


# heading
fig.text(fx(7), fy(20), heading_num, fontsize=13.9, fontweight="bold", family=TEXT_FONT, va="baseline")
fig.text(fx(52), fy(20), heading_text, fontsize=13.9, fontweight="bold", family=TEXT_FONT, va="baseline")

# justified paragraph
PAR_LEFT, PAR_RIGHT = 7, 801
baselines = [59.5, 81, 102.3, 123.6, 145, 166.3]
for i, (line, yb) in enumerate(zip(paragraph_lines, baselines)):
    words = line.split(" ")
    objs = [fig.text(0, fy(yb), w, fontsize=14.5, family=TEXT_FONT, va="baseline") for w in words]
    widths = [o.get_window_extent(renderer).width for o in objs]
    if i < len(paragraph_lines) - 1:
        gap = max((PAR_RIGHT - PAR_LEFT - sum(widths)) / (len(words) - 1), 1.5)
    else:
        gap = 3.6
    x = PAR_LEFT
    for o, w in zip(objs, widths):
        o.set_x(fx(x))
        x += w + gap

col_left = [41, 194.5, 348, 501.5, 655]
AX_W = 140
rows = [
    # (top px, height px, ylim, ytick step, figure)
    (252, 139.5, (-77, 18), 20, "top"),
    (439.5, 139.5, (-58, 12.2), 10, "top"),
    (667.5, 139, (-22.5, 7.1), 5, "bottom"),
    (856, 139, (-19.8, 7.2), 5, "bottom"),
]

top_series = [
    (cross_candidate, cross_candidate_sd),
    (candidates_reference, candidates_reference_sd),
    (question_reference, question_reference_sd),
    (candidates_question, candidates_question_sd),
]
bottom_series = [
    (reference_last, reference_last_sd),
    (candidates_last, candidates_last_sd),
    (question_last, question_last_sd),
]

FS = 5.9
for r, (top, height, ylim, step, which) in enumerate(rows):
    series = top_series if which == "top" else bottom_series
    colors = top_colors if which == "top" else bottom_colors
    for c in range(5):
        k = (r % 2) * 5 + c
        ax = fig.add_axes([fx(col_left[c]), fy(top + height), AX_W / W, height / H])
        ax.axhline(0, color="#9a9a9a", lw=0.9, ls=(0, (1, 1)), zorder=1)
        for (vals, sds), color in zip(series, colors):
            y = np.asarray(vals[k], float)
            s = np.asarray(sds[k], float)
            ax.fill_between(layers, y - s, y + s, color=color, alpha=0.18, lw=0, zorder=2)
            ax.plot(layers, y, color=color, lw=1.1, zorder=3)
        ax.set_xlim(0, 35)
        ax.set_ylim(*ylim)
        ax.xaxis.set_major_locator(MultipleLocator(10))
        ax.xaxis.set_minor_locator(MultipleLocator(2))
        ax.yaxis.set_major_locator(MultipleLocator(step))
        ax.yaxis.set_minor_locator(AutoMinorLocator(5))
        ax.grid(True, which="major", color="#e4e4e4", lw=0.8)
        ax.set_axisbelow(True)
        ax.tick_params(which="both", direction="in", top=True, right=True,
                       labelsize=FS, pad=2, width=0.8, colors="black")
        ax.tick_params(which="major", length=3)
        ax.tick_params(which="minor", length=1.6)
        for side in ("top", "right"):
            ax.spines[side].set_visible(False)
        ax.spines["left"].set_linewidth(1.5)
        ax.spines["bottom"].set_linewidth(1.2)
        ax.set_xlabel("Layer", fontsize=FS, labelpad=1)
        if c == 0:
            ax.set_ylabel("% Change in Probability", fontsize=FS, labelpad=2)
        else:
            ax.tick_params(labelleft=False)
        ax.set_title(f"{task_names[k]}\n{orderings[k]}", fontsize=FS, pad=3, linespacing=1.1)

top_handles = [Line2D([], [], color=c, lw=1.1) for c in top_colors]
fig.legend(top_handles, top_labels, loc="center", bbox_to_anchor=(fx(418), fy(210)), ncol=4,
           frameon=False, fontsize=7.0, handlelength=2.7, columnspacing=2.2, handletextpad=0.7)
bottom_handles = [Line2D([], [], color=c, lw=1.1) for c in bottom_colors]
fig.legend(bottom_handles, bottom_labels, loc="center", bbox_to_anchor=(fx(418), fy(626)), ncol=3,
           frameon=False, fontsize=7.0, handlelength=2.7, columnspacing=2.2, handletextpad=0.7)

fig.savefig("out.png", dpi=100)
